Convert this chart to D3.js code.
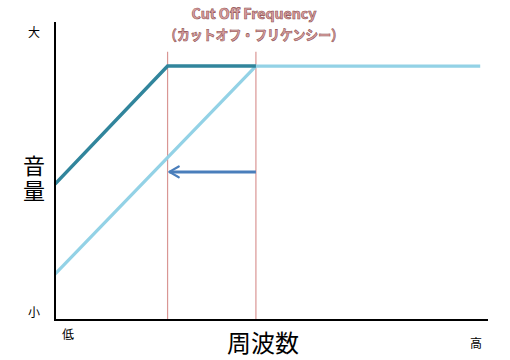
<!DOCTYPE html>
<html>
<head>
<meta charset="utf-8">
<script src="https://cdn.jsdelivr.net/npm/d3@7"></script>
<style>
  html, body { margin: 0; padding: 0; background: #fff; }
  svg { display: block; font-family: "Noto Sans CJK JP", "Noto Sans", sans-serif; }
</style>
</head>
<body>
<svg id="chart"></svg>
<script>
const width = 510;
const height = 360;

// данные графика (условные единицы 0..100)
const beforePoints = [[0, 45.6], [26, 85.2], [46.4, 85.2]];   // тёмная линия
const afterPoints = [[0, 15.4], [46.4, 85.2], [98.2, 85.2]];  // светлая линия
const cutoffs = [26, 46.4];
const cutoffTop = 90;
const arrowFrom = [46.4, 49.7];
const arrowTo = [26.4, 49.7];
const yLabels = ["小", "大"];
const xLabels = ["低", "高"];
const yTitle = "音量";
const xTitle = "周波数";
const titleLines = ["Cut Off Frequency", "（カットオフ・フリケンシー）"];

const svg = d3.select("#chart")
  .attr("width", width)
  .attr("height", height);

const x = d3.scaleLinear().domain([0, 100]).range([55, 488]);
const y = d3.scaleLinear().domain([0, 100]).range([320, 22]);

// наконечник стрелки
svg.append("defs").append("marker")
  .attr("id", "head")
  .attr("viewBox", "0 0 10 10")
  .attr("refX", 9).attr("refY", 5)
  .attr("markerWidth", 4.5).attr("markerHeight", 4.5)
  .attr("markerUnits", "strokeWidth")
  .attr("orient", "auto")
  .append("path")
  .attr("d", "M2,1 L9,5 L2,9")
  .attr("fill", "none")
  .attr("stroke", "#4a7ebb")
  .attr("stroke-width", 1.6)
  .attr("stroke-linecap", "round")
  .attr("stroke-linejoin", "round");

// линии частоты среза
svg.selectAll(".cut")
  .data(cutoffs)
  .enter()
  .append("line")
  .attr("x1", d => x(d)).attr("x2", d => x(d))
  .attr("y1", y(cutoffTop)).attr("y2", y(0))
  .attr("stroke", "#d99694")
  .attr("stroke-width", 1.2);

const line = d3.line().x(d => x(d[0])).y(d => y(d[1]));

svg.append("path")
  .attr("d", line(afterPoints))
  .attr("fill", "none")
  .attr("stroke", "#93d2e6")
  .attr("stroke-width", 3.2);

svg.append("path")
  .attr("d", line(beforePoints))
  .attr("fill", "none")
  .attr("stroke", "#31859c")
  .attr("stroke-width", 3.5);

// стрелка
svg.append("line")
  .attr("x1", x(arrowFrom[0])).attr("y1", y(arrowFrom[1]))
  .attr("x2", x(arrowTo[0])).attr("y2", y(arrowTo[1]))
  .attr("stroke", "#4a7ebb")
  .attr("stroke-width", 3)
  .attr("marker-end", "url(#head)");

// оси
svg.append("path")
  .attr("d", `M${x(0)},${y(100)} V${y(0)} H${x(100)}`)
  .attr("fill", "none")
  .attr("stroke", "#000")
  .attr("stroke-width", 2);

// подписи осей
svg.selectAll(".ylab")
  .data(yLabels)
  .enter()
  .append("text")
  .attr("x", 34)
  .attr("y", (d, i) => i == 0 ? 317 : 37)
  .attr("text-anchor", "middle")
  .style("font-size", "12px")
  .text(d => d);

svg.selectAll(".xlab")
  .data(xLabels)
  .enter()
  .append("text")
  .attr("x", (d, i) => i == 0 ? 68 : 476)
  .attr("y", (d, i) => i == 0 ? 339 : 348)
  .attr("text-anchor", "middle")
  .style("font-size", "12px")
  .text(d => d);

// вертикальная подпись
svg.append("text")
  .attr("x", 34)
  .attr("y", 180)
  .attr("text-anchor", "middle")
  .style("writing-mode", "vertical-rl")
  .style("letter-spacing", "3px")
  .style("font-size", "22px")
  .text(yTitle);

svg.append("text")
  .attr("x", 263)
  .attr("y", 352)
  .attr("text-anchor", "middle")
  .style("font-size", "24px")
  .text(xTitle);

// заголовок
svg.selectAll(".title")
  .data(titleLines)
  .enter()
  .append("text")
  .attr("x", 254)
  .attr("y", (d, i) => i == 0 ? 19 : 40)
  .attr("text-anchor", "middle")
  .attr("textLength", (d, i) => i == 0 ? 125 : 180)
  .attr("lengthAdjust", "spacingAndGlyphs")
  .style("font-size", "14px")
  .style("font-weight", "bold")
  .style("fill", "#dca3a3")
  .style("stroke", "#8c4f4f")
  .style("stroke-width", 0.6)
  .text(d => d);
</script>
</body>
</html>
